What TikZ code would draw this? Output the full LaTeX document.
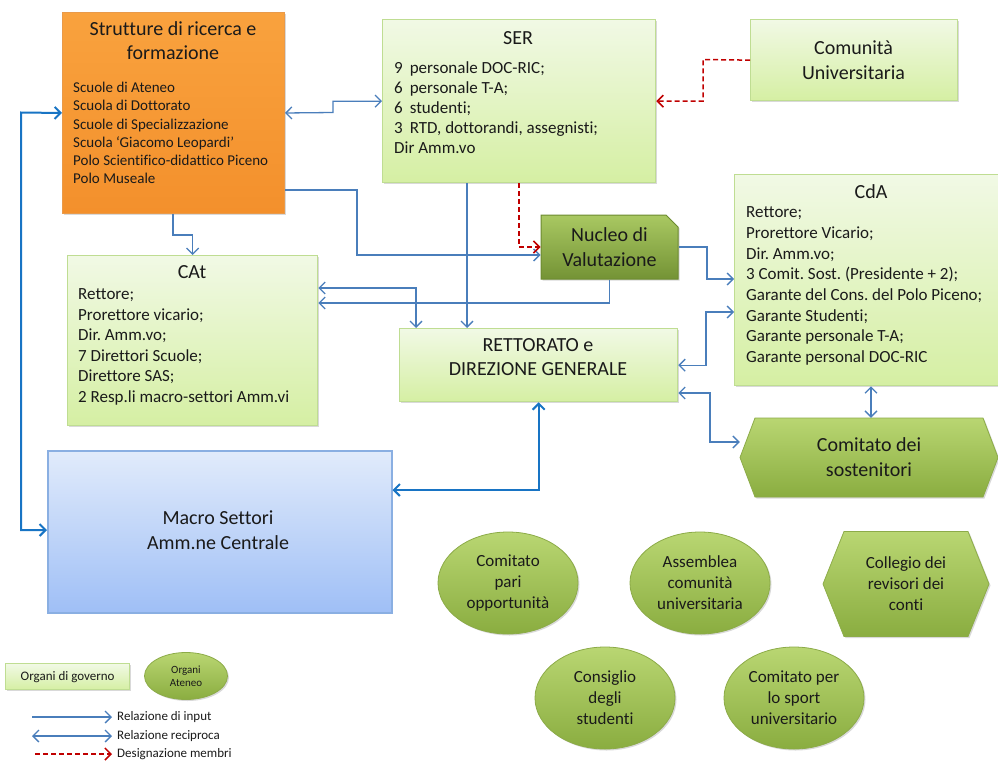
\documentclass[tikz,border=0pt]{standalone}
\usepackage{fontspec}
\setmainfont{Carlito}[Ligatures={NoCommon,NoRare},RawFeature={-liga;-dlig}]
\frenchspacing
\usetikzlibrary{shapes.geometric,shapes.misc,arrows.meta,shadows}
\definecolor{gtop}{HTML}{F1F9E5}
\definecolor{gbot}{HTML}{D5EFA3}
\definecolor{gborder}{HTML}{BFDD92}
\definecolor{otop}{HTML}{F9A23E}
\definecolor{obot}{HTML}{F3902C}
\definecolor{oborder}{HTML}{E99A4A}
\definecolor{btop}{HTML}{E1EBFB}
\definecolor{bbot}{HTML}{9FBFF6}
\definecolor{bborder}{HTML}{8AAFE2}
\definecolor{olvtop}{HTML}{B9D672}
\definecolor{olvbot}{HTML}{8AAD40}
\definecolor{olvline}{HTML}{8CAB48}
\definecolor{ntop}{HTML}{A9C862}
\definecolor{nbot}{HTML}{749335}
\definecolor{nline}{HTML}{6C8A30}
\definecolor{arrblue}{HTML}{4A7EBB}
\definecolor{arrdark}{HTML}{1874C4}
\definecolor{dred}{HTML}{C00000}
\definecolor{tcol}{HTML}{1A1A1A}
\newcommand{\myfs}[2]{\fontsize{#1}{#2}\selectfont}
\begin{document}
\begin{tikzpicture}[x=1pt,y=-1pt,
  shadowed/.style={drop shadow={shadow xshift=1.5pt,shadow yshift=-1.5pt,opacity=0.25,fill=black!60}},
  gbox/.style={draw=gborder,line width=1.3pt,top color=gtop,bottom color=gbot,inner sep=0pt,anchor=north west,shadowed,text=tcol},
  obox/.style={draw=oborder,line width=1pt,top color=otop,bottom color=obot,inner sep=0pt,anchor=north west,shadowed},
  bbox/.style={draw=bborder,line width=1.5pt,top color=btop,bottom color=bbot,inner sep=0pt,anchor=north west,shadowed},
  nbox/.style={chamfered rectangle,chamfered rectangle corners=north east,chamfered rectangle xsep=6pt,chamfered rectangle ysep=6pt,draw=nline,line width=1pt,top color=ntop,bottom color=nbot,inner sep=0pt,align=center,text=tcol,shadowed},
  oval/.style={ellipse,draw=olvline,line width=0.8pt,top color=olvtop,bottom color=olvbot,align=center,inner sep=0pt,text=tcol,shadowed},
  hexfill/.style={draw=olvline,line width=0.8pt,top color=olvtop,bottom color=olvbot,shadowed},
  txt/.style={inner sep=0pt,text=tcol,align=left},
  ctxt/.style={inner sep=0pt,text=tcol,align=center},
  inp/.style={draw=arrblue,line width=1.3pt,-{Straight Barb[length=6pt,width=12pt]}},
  recip/.style={draw=arrblue,line width=1.3pt,{Straight Barb[length=6pt,width=12pt]}-{Straight Barb[length=6pt,width=12pt]}},
  recipdark/.style={draw=arrdark,line width=2pt,{Straight Barb[length=6pt,width=12pt]}-{Straight Barb[length=6pt,width=12pt]}},
  desig/.style={draw=dred,line width=1.5pt,dash pattern=on 5pt off 3pt,-{Straight Barb[length=6pt,width=12pt]}}
]
\useasboundingbox (0,0) rectangle (998,760);

% Strutture
\node[obox,minimum width=222pt,minimum height=201pt] (strut) at (62,12) {};
\node[ctxt,font=\myfs{20}{24}] (strutT) at (173,41) {Strutture di ricerca e\\formazione};
\node[txt,anchor=west,font=\myfs{15}{18.2}] (strutL) at (73,133) {Scuole di Ateneo\\Scuola di Dottorato\\Scuole di Specializzazione\\Scuola ‘Giacomo Leopardi’\\Polo Scientifico-didattico Piceno\\Polo Museale};

% SER
\node[gbox,minimum width=273pt,minimum height=163pt] (ser) at (382,19) {};
\node[ctxt,font=\myfs{20}{24}] (serT) at (518,38) {SER};
\node[txt,anchor=west,font=\myfs{17}{20}] (serL) at (394,108) {9\hspace{7pt}personale DOC-RIC;\\6\hspace{7pt}personale T-A;\\6\hspace{7pt}studenti;\\3\hspace{7pt}RTD, dottorandi, assegnisti;\\Dir Amm.vo};

% Comunita
\node[gbox,minimum width=207pt,minimum height=81pt] (comu) at (750,19) {};
\node[ctxt,font=\myfs{20}{25}] (comuT) at (853.5,60.5) {Comunità\\Universitaria};

% CdA
\node[gbox,minimum width=272pt,minimum height=211pt] (cda) at (734,174) {};
\node[ctxt,font=\myfs{20}{24}] (cdaT) at (871,192) {CdA};
\node[txt,anchor=west,font=\myfs{17}{20.7}] (cdaL) at (746,286) {Rettore;\\Prorettore Vicario;\\Dir. Amm.vo;\\3 Comit. Sost. (Presidente + 2);\\Garante del Cons. del Polo Piceno;\\Garante Studenti;\\Garante personale T-A;\\Garante personal DOC-RIC};

% Nucleo
\node[nbox,minimum width=137pt,minimum height=64pt,font=\myfs{20}{25}] (nuc) at (609.5,247) {Nucleo di\\Valutazione};

% CAt
\node[gbox,minimum width=250pt,minimum height=170pt] (cat) at (67,255) {};
\node[ctxt,font=\myfs{20}{24}] (catT) at (192,272) {CAt};
\node[txt,anchor=west,font=\myfs{17}{20.6}] (catL) at (78,347) {Rettore;\\Prorettore vicario;\\Dir. Amm.vo;\\7 Direttori Scuole;\\Direttore SAS;\\2 Resp.li macro-settori Amm.vi};

% Rettorato
\node[gbox,minimum width=278pt,minimum height=73pt] (rett) at (399,328) {};
\node[ctxt,font=\myfs{20}{23.5}] (rettT) at (538,357) {RETTORATO e\\DIREZIONE GENERALE};

% Macro
\node[bbox,minimum width=344pt,minimum height=162pt] (macro) at (47,450) {};
\node[ctxt,font=\myfs{20}{25}] (macroT) at (218,530) {Macro Settori\\Amm.ne Centrale};

% Comitato dei sostenitori
\path[hexfill] (740,457.5) -- (755,418) -- (983,418) -- (998,457.5) -- (983,497) -- (755,497) -- cycle;
\node[ctxt,font=\myfs{20}{25},minimum width=258pt,minimum height=79pt] (sost) at (869,457.5) {Comitato dei\\sostenitori};

% Organi
\node[oval,minimum width=140pt,minimum height=102pt,font=\myfs{17}{21}] (pari) at (508,583) {Comitato\\pari\\opportunità};
\node[oval,minimum width=140pt,minimum height=102pt,font=\myfs{17}{21}] (assem) at (700,583) {Assemblea\\comunità\\universitaria};
\path[hexfill] (823,584) -- (844,531.5) -- (968,531.5) -- (989,584) -- (968,636.5) -- (844,636.5) -- cycle;
\node[ctxt,font=\myfs{17}{21}] (colleg) at (906,584) {Collegio dei\\revisori dei\\conti};
\node[oval,minimum width=140pt,minimum height=102pt,font=\myfs{17}{21}] (consi) at (605,698) {Consiglio\\degli\\studenti};
\node[oval,minimum width=140pt,minimum height=102pt,font=\myfs{17}{21}] (sport) at (794,698) {Comitato per\\lo sport\\universitario};

% Connectors
\draw[recip] (strut.east) -- (333,112.5) |- (ser.west);
\draw[inp] (strut.east |- 0,190) -| (357,255) -- (nuc.west |- 0,255);
\draw[inp] (strut.south -| 173,0) -- (173,235) -| (cat.north);
\draw[recipdark] (strut.west) -- (21,112.5) |- (macro.west |- 0,530);
\draw[inp] (ser.south -| 467,0) -- (rett.north -| 467,0);
\draw[desig] (ser.south -| 519,0) |- (nuc.west);
\draw[desig] (comu.west) -- (703,59.5) |- (ser.east);
\draw[inp] (nuc.south) |- (cat.east |- 0,303);
\draw[recip] (cat.east |- 0,288) -| (rett.north -| 416,0);
\draw[inp] (nuc.east) -- (707,247) |- (cda.west |- 0,279);
\draw[recip] (rett.east) -| (706,312) -- (cda.west |- 0,312);
\draw[recip] (rett.east |- 0,393) -| (710,442) -- (sost.west |- 0,442);
\draw[recip] (cda.south -| 871,0) -- (sost.north -| 871,0);
\draw[recipdark] (macro.east |- 0,490) -| (rett.south);

% Legend
\node[gbox,minimum width=124pt,minimum height=26pt,font=\myfs{13}{15}] (lg1) at (5,663) {Organi di governo};
\node[oval,minimum width=83pt,minimum height=47pt,font=\myfs{11}{13}] (lg2) at (186,676) {Organi\\Ateneo};
\coordinate (la1) at (32,717); \coordinate (lb1) at (112,717);
\coordinate (la2) at (32,736); \coordinate (lb2) at (112,736);
\coordinate (la3) at (35,754); \coordinate (lb3) at (112,754);
\draw[inp] (la1) -- (lb1);
\draw[recip] (la2) -- (lb2);
\draw[desig] (la3) -- (lb3);
\node[txt,anchor=west,font=\myfs{13}{15}] (lt1) at (117,717) {Relazione di input};
\node[txt,anchor=west,font=\myfs{13}{15}] (lt2) at (117,736) {Relazione reciproca};
\node[txt,anchor=west,font=\myfs{13}{15}] (lt3) at (117,754) {Designazione membri};
\end{tikzpicture}
\end{document}
